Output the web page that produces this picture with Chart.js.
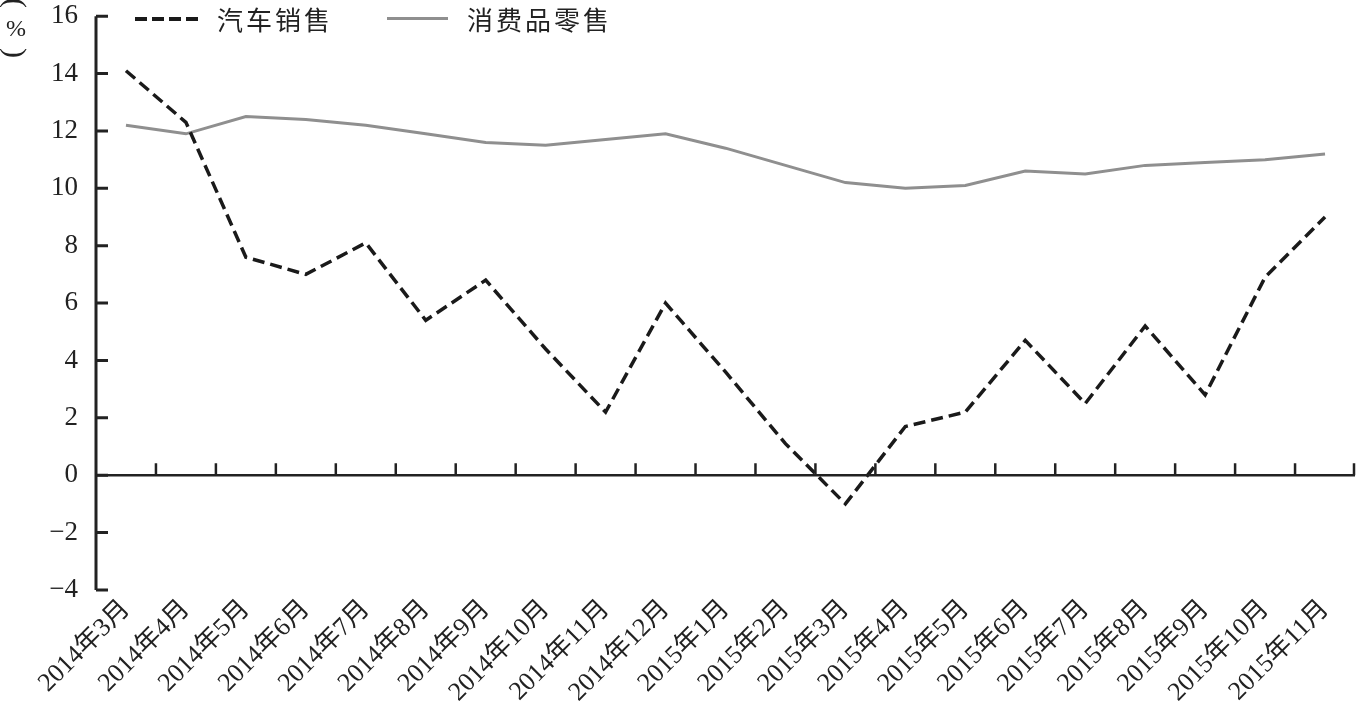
<!DOCTYPE html>
<html lang="zh">
<head>
<meta charset="UTF-8">
<title>汽车销售与消费品零售增速</title>
<style>
    html, body { margin: 0; padding: 0; background: #fff; }
    .wrap { position: relative; width: 1356px; height: 711px; }
    canvas { position: absolute; left: 0; top: 0; }
    .unit span {
        position: absolute; left: 16px; display: block; color: #222;
        font: 30px 'Liberation Serif', 'Times New Roman', serif;
        line-height: 1; white-space: nowrap;
    }
    .unit .paren { transform: translate(-50%, -50%) rotate(90deg); }
    .unit .pct { transform: translate(-50%, -50%); font-size: 24px; }
    .legend {
        position: absolute; top: 0; left: 0;
        font: 26px 'Liberation Serif', 'Noto Sans CJK SC', serif;
        letter-spacing: 3px; color: #222;
    }
    .legend span { position: absolute; white-space: nowrap; }
    .legend i { position: absolute; top: 17px; }
</style>
</head>
<body>
<div class="wrap">
    <canvas id="chart" width="1356" height="711"></canvas>
    <div class="unit">
        <span class="paren" style="top:3px;">(</span>
        <span class="pct" style="top:28px;">%</span>
        <span class="paren" style="top:53px;">)</span>
    </div>
    <div class="legend">
        <i style="left:135px;width:64px;height:3.5px;background:repeating-linear-gradient(to right,#1a1a1a 0 12px,transparent 12px 17px);"></i>
        <span style="left:217px;">汽车销售</span>
        <i style="left:387px;width:61px;height:3px;background:#8f8f8f;"></i>
        <span style="left:467px;">消费品零售</span>
    </div>
</div>
<script src="https://cdn.jsdelivr.net/npm/chart.js"></script>
<script>
const months = ["2014年3月","2014年4月","2014年5月","2014年6月","2014年7月","2014年8月","2014年9月",
    "2014年10月","2014年11月","2014年12月","2015年1月","2015年2月","2015年3月","2015年4月",
    "2015年5月","2015年6月","2015年7月","2015年8月","2015年9月","2015年10月","2015年11月"];
const carSales = [14.1, 12.3, 7.6, 7.0, 8.1, 5.4, 6.8, 4.4, 2.2, 6.0, 3.6, 1.1, -1.0,
    1.7, 2.2, 4.7, 2.5, 5.2, 2.8, 6.9, 9.0];
const retailSales = [12.2, 11.9, 12.5, 12.4, 12.2, 11.9, 11.6, 11.5, 11.7, 11.9, 11.4, 10.8, 10.2,
    10.0, 10.1, 10.6, 10.5, 10.8, 10.9, 11.0, 11.2];
const yTicks = [-4, -2, 0, 2, 4, 6, 8, 10, 12, 14, 16];

const FONT = "'Liberation Serif', 'Times New Roman', 'DejaVu Serif', 'Noto Sans CJK SC', serif";

// 坐标轴：零线及向上刻度，y轴向内刻度
const axisPlugin = {
    id: 'axisMarks',
    afterDatasetsDraw(chart) {
        const ctx = chart.ctx;
        const xs = chart.scales.x, ys = chart.scales.y;
        const area = chart.chartArea;
        const y0 = ys.getPixelForValue(0);
        ctx.save();
        ctx.strokeStyle = '#222';
        ctx.lineWidth = 2.5;
        ctx.beginPath();
        ctx.moveTo(area.left, y0);
        ctx.lineTo(area.right, y0);
        for (let i = 1; i <= months.length; i++) {
            const bx = i < months.length
                ? (xs.getPixelForValue(i - 1) + xs.getPixelForValue(i)) / 2
                : area.right - 1;
            ctx.moveTo(bx, y0);
            ctx.lineTo(bx, y0 - 12);
        }
        ctx.stroke();
        ctx.lineWidth = 3;
        ctx.beginPath();
        ctx.moveTo(area.left, area.top);
        ctx.lineTo(area.left, area.bottom);
        yTicks.forEach(v => {
            const py = ys.getPixelForValue(v);
            ctx.moveTo(area.left, py);
            ctx.lineTo(area.left + 12, py);
        });
        ctx.stroke();
        ctx.restore();
    }
};

new Chart(document.getElementById('chart').getContext('2d'), {
    type: 'line',
    data: {
        labels: months,
        datasets: [{
            label: '汽车销售',
            data: carSales,
            borderColor: '#1a1a1a',
            borderWidth: 3.5,
            borderDash: [12, 6],
            pointRadius: 0,
            tension: 0,
            fill: false
        }, {
            label: '消费品零售',
            data: retailSales,
            borderColor: '#8f8f8f',
            borderWidth: 3,
            pointRadius: 0,
            tension: 0,
            fill: false
        }]
    },
    options: {
        responsive: false,
        animation: false,
        layout: { padding: { left: 0, right: 1, top: 0, bottom: 0 } },
        plugins: { legend: { display: false }, tooltip: { enabled: false } },
        scales: {
            x: {
                offset: true,
                grid: { display: false, drawTicks: false, offset: true },
                border: { display: false },
                ticks: {
                    autoSkip: false, maxRotation: 45, minRotation: 45, padding: 4,
                    color: '#222', font: { family: FONT, size: 26 }
                },
                afterFit(scale) { scale.height = 121; }
            },
            y: {
                min: -4, max: 16,
                // tickLength only makes the gap between labels and axis; the marks come from the plugin
                grid: { display: false, drawTicks: true, tickLength: 18 },
                border: { display: false },
                afterBuildTicks(scale) { scale.ticks = yTicks.map(v => ({ value: v })); },
                ticks: {
                    padding: 0, color: '#222', font: { family: FONT, size: 27 },
                    callback: v => (v < 0 ? '\u2212' + Math.abs(v) : String(v))
                },
                afterFit(scale) { scale.width = 96; }
            }
        }
    },
    plugins: [axisPlugin]
});
</script>
</body>
</html>
